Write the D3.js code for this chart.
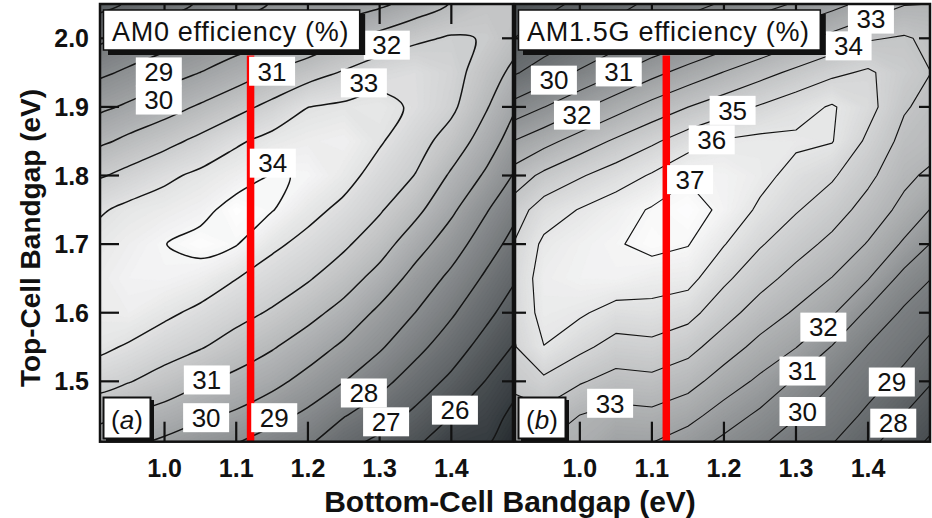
<!DOCTYPE html>
<html>
<head>
<meta charset="utf-8">
<script src="https://cdn.jsdelivr.net/npm/d3@7"></script>
<style>
  body { margin: 0; background: #fff; }
  svg { display: block; }
  text { font-family: "Liberation Sans", Arial, Helvetica, sans-serif; fill: #111; }
</style>
</head>
<body>
<svg id="chart" width="932" height="518"></svg>
<script>
// Grid of simulated tandem efficiencies (%), bottom-cell gap across, top-cell gap down.
const bottomGaps = [0.90, 0.95, 1.00, 1.05, 1.10, 1.15, 1.20, 1.25, 1.30, 1.35, 1.40, 1.45, 1.50];
const topGaps = [2.05, 2.00, 1.95, 1.90, 1.85, 1.80, 1.75, 1.70, 1.65, 1.60, 1.55, 1.50, 1.45, 1.40];

const am0Efficiency = [
  [26.6, 27.1, 27.6, 28.1, 28.6, 29.05, 29.25, 29.35, 29.8, 30.4, 31.05, 31.6, 31.6],
  [27.7, 28.15, 28.6, 29.07, 29.48, 29.83, 30.23, 30.86, 31.34, 31.82, 32.1, 31.95, 31.2],
  [28.7, 29.18, 29.6, 30.01, 30.5, 31.08, 31.58, 32.09, 32.61, 32.8, 32.35, 31.5, 30.5],
  [29.7, 30.15, 30.6, 31.12, 31.68, 32.27, 32.99, 33.17, 33.3, 32.85, 32.2, 31.05, 29.8],
  [30.7, 31.23, 31.7, 32.25, 32.86, 33.31, 33.55, 33.7, 33.1, 32.38, 31.6, 30.47, 29.24],
  [31.8, 32.29, 32.8, 33.2, 33.59, 34.05, 33.95, 33.35, 32.6, 31.97, 30.86, 29.82, 28.63],
  [32.8, 33.24, 33.45, 33.73, 34.35, 34.05, 33.3, 32.76, 32.1, 31.26, 30.18, 29.05, 27.98],
  [33.25, 33.6, 33.98, 34.3, 34.05, 33.19, 32.71, 32.16, 31.43, 30.42, 29.47, 28.42, 27.44],
  [33.45, 33.8, 33.85, 33.58, 33.02, 32.55, 32.09, 31.45, 30.64, 29.65, 28.77, 27.81, 26.86],
  [33.45, 33.6, 33.2, 32.77, 32.33, 31.89, 31.31, 30.66, 29.79, 28.99, 28.12, 27.22, 26.29],
  [33.25, 32.9, 32.45, 32.07, 31.57, 31.08, 30.5, 29.82, 29.12, 28.28, 27.48, 26.58, 25.72],
  [32.4, 32.05, 31.6, 31.11, 30.72, 30.29, 29.66, 29.02, 28.3, 27.54, 26.79, 25.94, 25.15],
  [31.3, 30.93, 30.6, 30.18, 29.84, 29.33, 28.79, 28.05, 27.47, 26.79, 26.02, 25.44, 24.54],
  [30.2, 29.95, 29.6, 29.16, 28.8, 28.3, 27.92, 27.14, 26.58, 25.98, 25.03, 24.95, 23.9]
];

const am15gEfficiency = [
  [27.2, 27.7, 28.2, 28.7, 29.2, 29.7, 30.1, 30.6, 31.1, 31.67, 32.31, 32.95, 33.02],
  [27.9, 28.5, 29.0, 29.5, 30.1, 30.71, 31.38, 32.04, 32.68, 33.3, 33.9, 34.1, 33.7],
  [28.8, 29.4, 30.12, 30.91, 31.7, 32.4, 33.04, 33.65, 34.23, 34.78, 35.15, 34.45, 33.85],
  [30.19, 30.98, 31.8, 32.6, 33.34, 33.99, 34.55, 35.09, 35.59, 36.1, 35.35, 34.1, 33.55],
  [31.9, 32.67, 33.44, 34.16, 34.83, 35.53, 36.1, 36.25, 36.2, 36.05, 34.8, 33.7, 33.35],
  [33.3, 34.22, 34.9, 35.49, 36.1, 36.9, 36.75, 36.35, 35.61, 35.13, 34.24, 33.26, 32.6],
  [34.3, 35.49, 36.05, 36.55, 37.1, 37.4, 36.8, 35.8, 35.08, 34.45, 33.62, 32.7, 31.7],
  [34.8, 36.2, 36.6, 36.9, 37.3, 37.05, 36.05, 35.09, 34.4, 33.74, 32.93, 31.85, 30.65],
  [35.0, 36.45, 36.7, 36.75, 36.45, 36.35, 35.2, 34.36, 33.65, 32.97, 32.05, 30.65, 29.8],
  [34.95, 36.35, 36.15, 35.58, 35.68, 35.34, 34.38, 33.55, 32.87, 32.14, 30.82, 29.84, 29.2],
  [34.7, 35.98, 35.25, 34.62, 34.72, 34.32, 33.49, 32.69, 32.03, 30.95, 29.94, 29.31, 28.55],
  [34.2, 34.78, 34.1, 33.63, 33.74, 33.37, 32.54, 31.8, 30.86, 30.05, 29.4, 28.7, 27.85],
  [33.5, 33.7, 32.98, 32.66, 32.75, 32.33, 31.54, 30.78, 30.08, 29.54, 28.8, 27.97, 27.18],
  [32.9, 32.85, 32.6, 31.8, 31.8, 31.26, 30.53, 29.97, 29.2, 28.9, 28.1, 27.3, 26.45]
];

// Contour levels (%)
const am0Levels = [24, 25, 26, 27, 28, 29, 30, 31, 32, 33, 34];
const am15gLevels = [25, 26, 27, 28, 29, 30, 31, 32, 33, 34, 35, 36, 37];

// Contour labels: [level, bottom gap (eV), top gap (eV)]
const am0Labels = [
  [29, 0.992, 1.951], [30, 0.992, 1.910], [31, 1.150, 1.952], [34, 1.151, 1.818],
  [32, 1.310, 1.990], [33, 1.278, 1.935], [31, 1.059, 1.502], [30, 1.058, 1.447],
  [29, 1.153, 1.447], [28, 1.278, 1.483], [27, 1.309, 1.441], [26, 1.405, 1.458]
];
const am15gLabels = [
  [30, 0.964, 1.939], [31, 1.054, 1.951], [32, 0.996, 1.888], [37, 1.153, 1.794],
  [35, 1.212, 1.895], [36, 1.183, 1.852], [33, 1.404, 2.028], [34, 1.373, 1.989],
  [32, 1.338, 1.579], [31, 1.309, 1.515], [30, 1.309, 1.456], [29, 1.433, 1.499],
  [28, 1.435, 1.439], [33, 1.042, 1.468]
];

const xTicks = [1.0, 1.1, 1.2, 1.3, 1.4];
const yTicks = [1.5, 1.6, 1.7, 1.8, 1.9, 2.0];
const siliconGap = 1.12;          // Si bottom cell
const siliconLineTop = 1.975;     // upper end of the Si marker (eV)

const xDomain = [0.91, 1.486];
const yDomain = [1.412, 2.05];
const yTop = 4, yBottom = 441.7;

const panels = [
  { key: "a", values: am0Efficiency, levels: am0Levels, labels: am0Labels,
    title: "AM0 efficiency (%)", tag: "a", x0: 100, x1: 513,
    lineWidth: 1.5, smooth: true, shade: [24.2, 34.4], leftTick: 19, yLabels: true },
  { key: "b", values: am15gEfficiency, levels: am15gLevels, labels: am15gLabels,
    title: "AM1.5G efficiency (%)", tag: "b", x0: 515, x1: 930,
    lineWidth: 1.15, smooth: false, shade: [24.8, 37.5], leftTick: 11, yLabels: false }
];

const svg = d3.select("#chart");
const defs = svg.append("defs");

panels.forEach(p => {
  const x = d3.scaleLinear().domain(xDomain).range([p.x0, p.x1]);
  const y = d3.scaleLinear().domain(yDomain).range([yBottom, yTop]);
  const g = svg.append("g").attr("class", "panel-" + p.key);

  defs.append("clipPath").attr("id", "clip-" + p.key)
    .append("rect")
    .attr("x", p.x0).attr("y", yTop)
    .attr("width", p.x1 - p.x0).attr("height", yBottom - yTop);

  const plot = g.append("g").attr("clip-path", `url(#clip-${p.key})`);

  // grid index space -> data space -> screen
  const nx = bottomGaps.length, ny = topGaps.length;
  const stepX = bottomGaps[1] - bottomGaps[0];
  const stepY = topGaps[1] - topGaps[0];
  const sx = cx => x(bottomGaps[0] + (cx - 0.5) * stepX);
  const sy = cy => y(topGaps[0] + (cy - 0.5) * stepY);
  const path = d3.geoPath(d3.geoTransform({
    point(cx, cy) { this.stream.point(sx(cx), sy(cy)); }
  }));
  const roundRing = d3.line().curve(d3.curveCatmullRomClosed.alpha(0.5));
  const linePath = mp => p.smooth
    ? mp.coordinates.map(poly => poly.map(ring =>
        roundRing(ring.slice(0, -1).map(([cx, cy]) => [sx(cx), sy(cy)]))).join("")).join("")
    : path(mp);

  const flat = p.values.flat();
  const [lo, hi] = d3.extent(flat);

  const shade = d3.scaleLinear()
    .domain(p.shade)
    .range(["#23292d", "#ffffff"])
    .interpolate(d3.interpolateRgb)
    .clamp(true);

  // grayscale efficiency map as fine filled bands
  const bandLevels = d3.range(Math.floor(lo * 10) / 10, hi, 0.1);
  plot.append("rect")
    .attr("x", p.x0).attr("y", yTop)
    .attr("width", p.x1 - p.x0).attr("height", yBottom - yTop)
    .attr("fill", shade(lo));
  plot.append("g").selectAll("path")
    .data(d3.contours().size([nx, ny]).thresholds(bandLevels)(flat))
    .join("path")
    .attr("d", path)
    .attr("fill", d => shade(d.value + 0.05))
    .attr("stroke", d => shade(d.value + 0.05))
    .attr("stroke-width", 0.3);

  // iso-efficiency lines
  plot.append("g").selectAll("path")
    .data(d3.contours().size([nx, ny]).thresholds(p.levels)(flat))
    .join("path")
    .attr("d", linePath)
    .attr("fill", "none")
    .attr("stroke", "#141414")
    .attr("stroke-width", p.lineWidth)
    .attr("stroke-linejoin", "round");

  // silicon bottom-cell marker
  g.append("line")
    .attr("x1", x(siliconGap)).attr("x2", x(siliconGap))
    .attr("y1", y(siliconLineTop)).attr("y2", y(yDomain[0]))
    .attr("stroke", "#ff0000").attr("stroke-width", 7.5);

  // ticks on all four sides, pointing inward
  const ticks = g.append("g").attr("stroke", "#111").attr("stroke-width", 2.2);
  xTicks.forEach(t => {
    ticks.append("line").attr("x1", x(t)).attr("x2", x(t))
      .attr("y1", yBottom).attr("y2", yBottom - 20);
    ticks.append("line").attr("x1", x(t)).attr("x2", x(t))
      .attr("y1", yTop).attr("y2", yTop + 20);
  });
  yTicks.forEach(t => {
    ticks.append("line").attr("x1", p.x0).attr("x2", p.x0 + p.leftTick)
      .attr("y1", y(t)).attr("y2", y(t));
    ticks.append("line").attr("x1", p.x1).attr("x2", p.x1 - 11)
      .attr("y1", y(t)).attr("y2", y(t));
  });

  // contour value labels
  const lab = g.append("g").attr("clip-path", `url(#clip-${p.key})`);
  p.labels.forEach(([level, bx, ty]) => {
    const cx = x(bx), cy = y(ty);
    lab.append("rect")
      .attr("x", cx - 23).attr("y", cy - 14.5)
      .attr("width", 46).attr("height", 29)
      .attr("fill", "#fff");
    lab.append("text")
      .attr("x", cx).attr("y", cy + 9.3)
      .attr("text-anchor", "middle")
      .attr("font-size", 26)
      .text(level);
  });

  // title box with drop shadow
  const title = g.append("g");
  const tText = title.append("text")
    .attr("x", p.x0 + 12).attr("y", 41)
    .attr("font-size", 27)
    .attr("letter-spacing", 0.7)
    .text(p.title);
  const tw = tText.node().getComputedTextLength();
  title.insert("rect", "text")
    .attr("x", p.x0 + 8).attr("y", 14)
    .attr("width", tw + 20).attr("height", 41)
    .attr("fill", "#111");
  title.insert("rect", "text")
    .attr("x", p.x0 + 3.5).attr("y", 10)
    .attr("width", tw + 19).attr("height", 40)
    .attr("fill", "#fff").attr("stroke", "#111").attr("stroke-width", 1.5);

  // panel tag box
  const tag = g.append("g");
  tag.append("rect")
    .attr("x", p.x0 + 6).attr("y", 400)
    .attr("width", 48).attr("height", 42)
    .attr("fill", "#111");
  tag.append("rect")
    .attr("x", p.x0 + 3.5).attr("y", 397.5)
    .attr("width", 47).attr("height", 41)
    .attr("fill", "#fff").attr("stroke", "#111").attr("stroke-width", 2);
  const tagText = tag.append("text")
    .attr("x", p.x0 + 27).attr("y", 429)
    .attr("text-anchor", "middle")
    .attr("font-size", 26);
  tagText.append("tspan").text("(");
  tagText.append("tspan").attr("font-style", "italic").text(p.tag);
  tagText.append("tspan").text(")");

  // frame
  g.append("rect")
    .attr("x", p.x0).attr("y", yTop)
    .attr("width", p.x1 - p.x0).attr("height", yBottom - yTop)
    .attr("fill", "none").attr("stroke", "#111").attr("stroke-width", 2.5);

  // tick labels
  xTicks.forEach(t => {
    g.append("text")
      .attr("x", x(t)).attr("y", 477)
      .attr("text-anchor", "middle")
      .attr("font-size", 25).attr("font-weight", "bold")
      .text(d3.format(".1f")(t));
  });
  if (p.yLabels) {
    yTicks.forEach(t => {
      g.append("text")
        .attr("x", 89).attr("y", y(t) + 9)
        .attr("text-anchor", "end")
        .attr("font-size", 25).attr("font-weight", "bold")
        .text(d3.format(".1f")(t));
    });
  }
});

// axis titles
svg.append("text")
  .attr("x", 510).attr("y", 512)
  .attr("text-anchor", "middle")
  .attr("font-size", 30).attr("font-weight", "bold")
  .text("Bottom-Cell Bandgap (eV)");
svg.append("text")
  .attr("transform", "translate(40,238) rotate(-90)")
  .attr("text-anchor", "middle")
  .attr("font-size", 28).attr("font-weight", "bold")
  .text("Top-Cell Bandgap (eV)");
</script>
</body>
</html>
